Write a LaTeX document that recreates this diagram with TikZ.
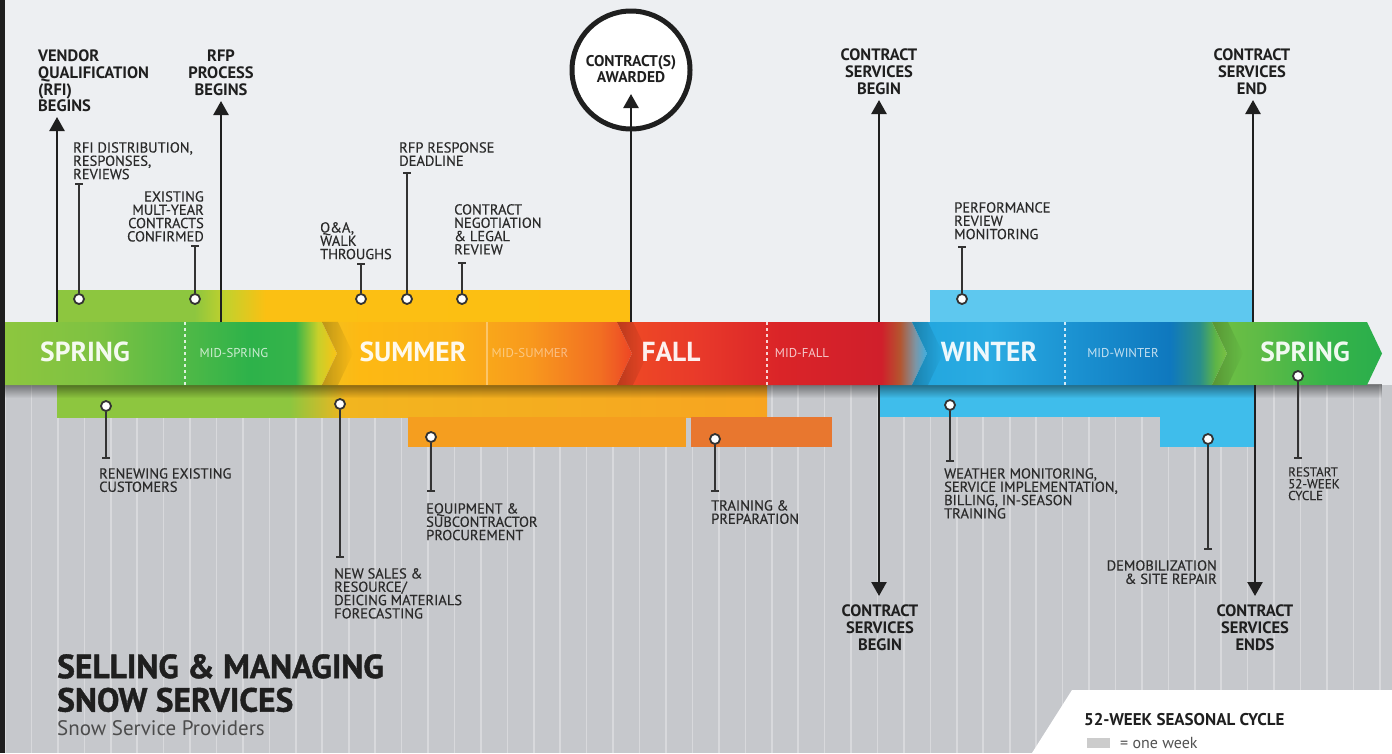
\documentclass[tikz,border=0pt]{standalone}
\usepackage{fontspec}
\setmainfont{PT Sans}
\newfontfamily\lblfont{PT Sans}[FakeBold=0.3]
\newfontfamily\titlefont{PT Sans}[BoldFeatures={FakeBold=1.2}]
\usetikzlibrary{arrows.meta,fadings}
\definecolor{topbg}{HTML}{EDEFF2}
\definecolor{botbg}{HTML}{C6C8CC}
\definecolor{darkc}{HTML}{1F1F1F}
\definecolor{labelc}{HTML}{2B2B2B}
\definecolor{pinc}{HTML}{333333}
\definecolor{gA}{HTML}{8DC63F}
\definecolor{gB}{HTML}{7DC242}
\definecolor{gC}{HTML}{2DB24A}
\definecolor{gD}{HTML}{35B44A}
\definecolor{gE}{HTML}{C8D02A}
\definecolor{yA}{HTML}{FBC316}
\definecolor{sA}{HTML}{F3C11F}
\definecolor{sB}{HTML}{FDB913}
\definecolor{sC}{HTML}{FBB317}
\definecolor{sD}{HTML}{F8991D}
\definecolor{sE}{HTML}{F26F22}
\definecolor{sF}{HTML}{EF5A24}
\definecolor{sG}{HTML}{EE4524}
\definecolor{fA}{HTML}{EF4B24}
\definecolor{fB}{HTML}{E8392A}
\definecolor{fC}{HTML}{DA2428}
\definecolor{fD}{HTML}{D01F2B}
\definecolor{fE}{HTML}{B4552F}
\definecolor{fF}{HTML}{7D95A5}
\definecolor{fG}{HTML}{3DB0E3}
\definecolor{wA}{HTML}{22A6DE}
\definecolor{wB}{HTML}{2AABE2}
\definecolor{wC}{HTML}{1A90D0}
\definecolor{wD}{HTML}{0F78BE}
\definecolor{wE}{HTML}{2A8F8A}
\definecolor{wF}{HTML}{5DB447}
\definecolor{wG}{HTML}{7CC242}
\definecolor{pA}{HTML}{72C044}
\definecolor{pB}{HTML}{5EBB46}
\definecolor{pC}{HTML}{35B34A}
\definecolor{pD}{HTML}{2AAE4B}
\definecolor{ubA}{HTML}{C3D12C}
\definecolor{ubB}{HTML}{FBC013}
\definecolor{ubC}{HTML}{FDBE12}
\definecolor{lbA}{HTML}{F2B51F}
\definecolor{lbB}{HTML}{F7A420}
\definecolor{orA}{HTML}{F59E1F}
\definecolor{orB}{HTML}{E8772F}
\definecolor{blU}{HTML}{5EC8EF}
\definecolor{blL}{HTML}{3FBDEB}
\pgfdeclarehorizontalshading{springone}{100bp}{color(0bp)=(gA); color(25bp)=(gA); color(39.3bp)=(gB); color(61.9bp)=(gC); color(68.7bp)=(gD); color(72.1bp)=(gE); color(75bp)=(yA); color(100bp)=(yA)}
\pgfdeclarehorizontalshading{summershade}{100bp}{color(0bp)=(sA); color(25bp)=(sA); color(31.1bp)=(sB); color(45.6bp)=(sC); color(58.5bp)=(sD); color(69.8bp)=(sE); color(72.6bp)=(sF); color(75bp)=(sG); color(100bp)=(sG)}
\pgfdeclarehorizontalshading{fallshade}{100bp}{color(0bp)=(fA); color(25bp)=(fA); color(38.4bp)=(fB); color(51.3bp)=(fC); color(67.6bp)=(fD); color(70.6bp)=(fE); color(73.1bp)=(fF); color(75bp)=(fG); color(100bp)=(fG)}
\pgfdeclarehorizontalshading{wintershade}{100bp}{color(0bp)=(wA); color(25bp)=(wA); color(37.4bp)=(wB); color(51.7bp)=(wC); color(66bp)=(wD); color(70.7bp)=(wE); color(73.1bp)=(wF); color(75bp)=(wG); color(100bp)=(wG)}
\pgfdeclarehorizontalshading{springtwo}{100bp}{color(0bp)=(pA); color(25bp)=(pA); color(39.1bp)=(pB); color(59.7bp)=(pC); color(75bp)=(pD); color(100bp)=(pD)}
\pgfdeclarehorizontalshading{upperbar}{100bp}{color(0bp)=(gA); color(25bp)=(gA); color(37bp)=(gA); color(39.7bp)=(ubA); color(43.2bp)=(ubB); color(75bp)=(ubC); color(100bp)=(ubC)}
\pgfdeclarehorizontalshading{lowerbar}{100bp}{color(0bp)=(gA); color(25bp)=(gA); color(41.4bp)=(gA); color(45.3bp)=(lbA); color(75bp)=(lbB); color(100bp)=(lbB)}
\tikzfading[name=shadowfade, top color=transparent!55, bottom color=transparent!100]
\tikzfading[name=notchfade, left color=transparent!78, right color=transparent!100]
\tikzset{
  lbl/.style={font=\lblfont\fontsize{14.5}{13.3}\selectfont, text=labelc, inner sep=0pt, align=left},
  smlbl/.style={font=\lblfont\fontsize{13}{11.8}\selectfont, text=labelc, inner sep=0pt, align=left},
  blbl/.style={font=\bfseries\fontsize{16.5}{16.6}\selectfont, text=darkc, inner sep=0pt, align=center},
  bandlbl/.style={font=\bfseries\fontsize{27.5}{27.5}\selectfont, text=white, text opacity=0.92, inner sep=0pt, anchor=base},
  midlbl/.style={font=\fontsize{12.8}{12.8}\selectfont, text=white, text opacity=0.75, inner sep=0pt, anchor=base},
  bigarrow/.style={draw=darkc, line width=2.5pt, -{Triangle[width=15pt,length=14pt]}},
  pinline/.style={draw=pinc, line width=1.8pt, -{Bar[width=8pt,line width=1.6pt]}},
  pindot/.style={circle, draw=pinc, line width=1.8pt, fill=white, minimum size=10pt, inner sep=0pt},
  divider/.style={draw=white, line width=1.2pt, dash pattern=on 3pt off 3pt, opacity=0.8},
  notchshadow/.style={fill=black, path fading=notchfade},
}
\begin{document}
\begin{tikzpicture}[x=1pt,y=-1pt]
\useasboundingbox (0,0) rectangle (1392,753);
% backgrounds
\fill[topbg] (0,0) rectangle (1392,385);
\fill[botbg] (0,385) rectangle (1392,753);
\foreach \i in {0,...,52} \draw[white, opacity=0.32, line width=1.6pt] ({5+26.44*\i},385) -- ({5+26.44*\i},753);
\fill[darkc] (0,0) rectangle (5,753);
% bars above
\shade[shading=upperbar] (57,290) rectangle (630,322);
\fill[blU] (930,290) rectangle (1252,322);
% bars below
\shade[shading=lowerbar] (57,385) rectangle (767,417);
\fill[orA] (408,417) rectangle (686,447);
\fill[orB] (691,417) rectangle (832,447);
\fill[blL] (880,385) rectangle (1255,417);
\fill[blL] (1160,417) rectangle (1255,447);
% shadow under band
\fill[black, path fading=shadowfade] (5,384) rectangle (1382,398);
% band
\shade[shading=springone] (5,322) -- (322,322) -- (337,353.5) -- (322,385) -- (5,385) -- cycle;
\shade[shading=summershade] (322,322) -- (617,322) -- (632,353.5) -- (617,385) -- (322,385) -- (337,353.5) -- cycle;
\shade[shading=fallshade] (617,322) -- (912,322) -- (927,353.5) -- (912,385) -- (617,385) -- (632,353.5) -- cycle;
\shade[shading=wintershade] (912,322) -- (1212,322) -- (1227,353.5) -- (1212,385) -- (912,385) -- (927,353.5) -- cycle;
\shade[shading=springtwo] (1212,322) -- (1367,322) -- (1382,353.5) -- (1367,385) -- (1212,385) -- (1227,353.5) -- cycle;
\foreach \nx in {322,617,912,1212}
  \fill[notchshadow] (\nx,322) -- ({\nx+15},353.5) -- (\nx,385) -- ({\nx+16},385) -- ({\nx+31},353.5) -- ({\nx+16},322) -- cycle;
\draw[divider] (185,322) -- (185,385);
\draw[divider, opacity=0.35, dash pattern=on 60pt off 0pt] (487,322) -- (487,385);
\draw[divider] (767,322) -- (767,385);
\draw[divider] (1065,322) -- (1065,385);
\node[bandlbl] (tspring) at (85,361) {SPRING};
\node[midlbl] (tmspring) at (234,357) {MID-SPRING};
\node[bandlbl] (tsummer) at (413,361) {SUMMER};
\node[midlbl, text opacity=0.45] (tmsummer) at (530,357) {MID-SUMMER};
\node[bandlbl] (tfall) at (671,361) {FALL};
\node[midlbl] (tmfall) at (802,357) {MID-FALL};
\node[bandlbl] (twinter) at (989,361) {WINTER};
\node[midlbl] (tmwinter) at (1123,357) {MID-WINTER};
\node[bandlbl] (tspring2) at (1305,361) {SPRING};
% main milestone arrows (up)
\coordinate (a1s) at (57,322); \coordinate (a1e) at (57,117);
\coordinate (a2s) at (221,322); \coordinate (a2e) at (221,101);
\coordinate (a4s) at (879,322); \coordinate (a4e) at (879,100);
\coordinate (a5s) at (1253,322); \coordinate (a5e) at (1253,100);
\draw[bigarrow] (a1s) -- (a1e);
\draw[bigarrow] (a2s) -- (a2e);
\draw[bigarrow] (a4s) -- (a4e);
\draw[bigarrow] (a5s) -- (a5e);
\node[blbl, align=left, anchor=north west] (vendor) at (38,50) {VENDOR\\QUALIFICATION\\(RFI)\\BEGINS};
\node[blbl, anchor=north] (rfp) at (221,50) {RFP\\PROCESS\\BEGINS};
\node[blbl, anchor=north] (csb) at (879,49) {CONTRACT\\SERVICES\\BEGIN};
\node[blbl, anchor=north] (cse) at (1252,49) {CONTRACT\\SERVICES\\END};
% contract awarded
\node[circle, draw=darkc, line width=5pt, fill=white, minimum size=118pt, inner sep=0pt] (award) at (631,70) {};
\node[blbl, font=\bfseries\fontsize{15.5}{16}\selectfont, anchor=north] (awardtxt) at (631,55) {CONTRACT(S)\\AWARDED};
\coordinate (a3s) at (631,322); \coordinate (a3e) at (631,94);
\draw[bigarrow] (a3s) -- (a3e);
% down arrows
\coordinate (d1s) at (879,385); \coordinate (d1e) at (879,596);
\coordinate (d2s) at (1255,385); \coordinate (d2e) at (1255,596);
\draw[bigarrow] (d1s) -- (d1e);
\draw[bigarrow] (d2s) -- (d2e);
\node[blbl, anchor=north] (csb2) at (880,605) {CONTRACT\\SERVICES\\BEGIN};
\node[blbl, anchor=north] (cse2) at (1255,605) {CONTRACT\\SERVICES\\ENDS};
% upper pins
\node[pindot] (p1) at (79,299) {}; \coordinate (p1e) at (79,183);
\node[pindot] (p2) at (195,299) {}; \coordinate (p2e) at (195,245);
\node[pindot] (p3) at (361,299) {}; \coordinate (p3e) at (361,263);
\node[pindot] (p4) at (407,299) {}; \coordinate (p4e) at (407,172);
\node[pindot] (p5) at (462,299) {}; \coordinate (p5e) at (462,262);
\node[pindot] (p6) at (962,299) {}; \coordinate (p6e) at (962,246);
\foreach \p in {p1,p2,p3,p4,p5,p6} \draw[pinline] (\p) -- (\p e);
\node[lbl, anchor=north west] (l1) at (73,142) {RFI DISTRIBUTION,\\RESPONSES,\\REVIEWS};
\node[lbl, anchor=north east, align=right] (l2) at (204,191) {EXISTING\\MULT-YEAR\\CONTRACTS\\CONFIRMED};
\node[lbl, anchor=north west] (l3) at (320,222) {Q\&A,\\WALK\\THROUGHS};
\node[lbl, anchor=north west] (l4) at (399,142) {RFP RESPONSE\\DEADLINE};
\node[lbl, anchor=north west] (l5) at (454,204) {CONTRACT\\NEGOTIATION\\\& LEGAL\\REVIEW};
\node[lbl, anchor=north west] (l6) at (954,202) {PERFORMANCE\\REVIEW\\MONITORING};
% lower pins
\node[pindot] (q1) at (106,406) {}; \coordinate (q1e) at (106,459);
\node[pindot] (q2) at (340,404) {}; \coordinate (q2e) at (340,558);
\node[pindot] (q3) at (431,437) {}; \coordinate (q3e) at (431,492);
\node[pindot] (q4) at (715,439) {}; \coordinate (q4e) at (715,492);
\node[pindot] (q5) at (950,405) {}; \coordinate (q5e) at (950,462);
\node[pindot] (q6) at (1208,439) {}; \coordinate (q6e) at (1208,550);
\node[pindot] (q7) at (1298,376) {}; \coordinate (q7e) at (1298,459);
\foreach \p in {q1,q2,q3,q4,q5,q6,q7} \draw[pinline] (\p) -- (\p e);
\node[lbl, anchor=north west] (m1) at (99,468) {RENEWING EXISTING\\CUSTOMERS};
\node[lbl, anchor=north west] (m2) at (334,568) {NEW SALES \&\\RESOURCE/\\DEICING MATERIALS\\FORECASTING};
\node[lbl, anchor=north west] (m3) at (426,503) {EQUIPMENT \&\\SUBCONTRACTOR\\PROCUREMENT};
\node[lbl, anchor=north west] (m4) at (711,500) {TRAINING \&\\PREPARATION};
\node[lbl, anchor=north west] (m5) at (944,468) {WEATHER MONITORING,\\SERVICE IMPLEMENTATION,\\BILLING, IN-SEASON\\TRAINING};
\node[lbl, anchor=north east, align=right] (m6) at (1217,560) {DEMOBILIZATION\\\& SITE REPAIR};
\node[smlbl, anchor=north west] (m7) at (1288,467) {RESTART\\52-WEEK\\CYCLE};
% title
\node[anchor=north west, inner sep=0pt, align=left, text=darkc, font=\titlefont\bfseries\fontsize{33.5}{33.5}\selectfont] (title) at (57,654) {SELLING \& MANAGING\\SNOW SERVICES};
\node[anchor=north west, inner sep=0pt, text=black!70, font=\fontsize{21}{22}\selectfont] (subtitle) at (57,720) {Snow Service Providers};
% legend
\fill[white] (1072,690) -- (1392,690) -- (1392,753) -- (1032,753) -- cycle;
\node[anchor=north west, inner sep=0pt, text=darkc, font=\bfseries\fontsize{17}{18}\selectfont] (legtitle) at (1084,713) {52-WEEK SEASONAL CYCLE};
\node[fill=black!20, minimum width=23pt, minimum height=10pt, inner sep=0pt, anchor=north west] (legsq) at (1087,738) {};
\node[anchor=west, inner sep=0pt, text=black!68, font=\fontsize{16}{17}\selectfont] (legtxt) at (1120,743) {= one week};
\end{tikzpicture}
\end{document}
